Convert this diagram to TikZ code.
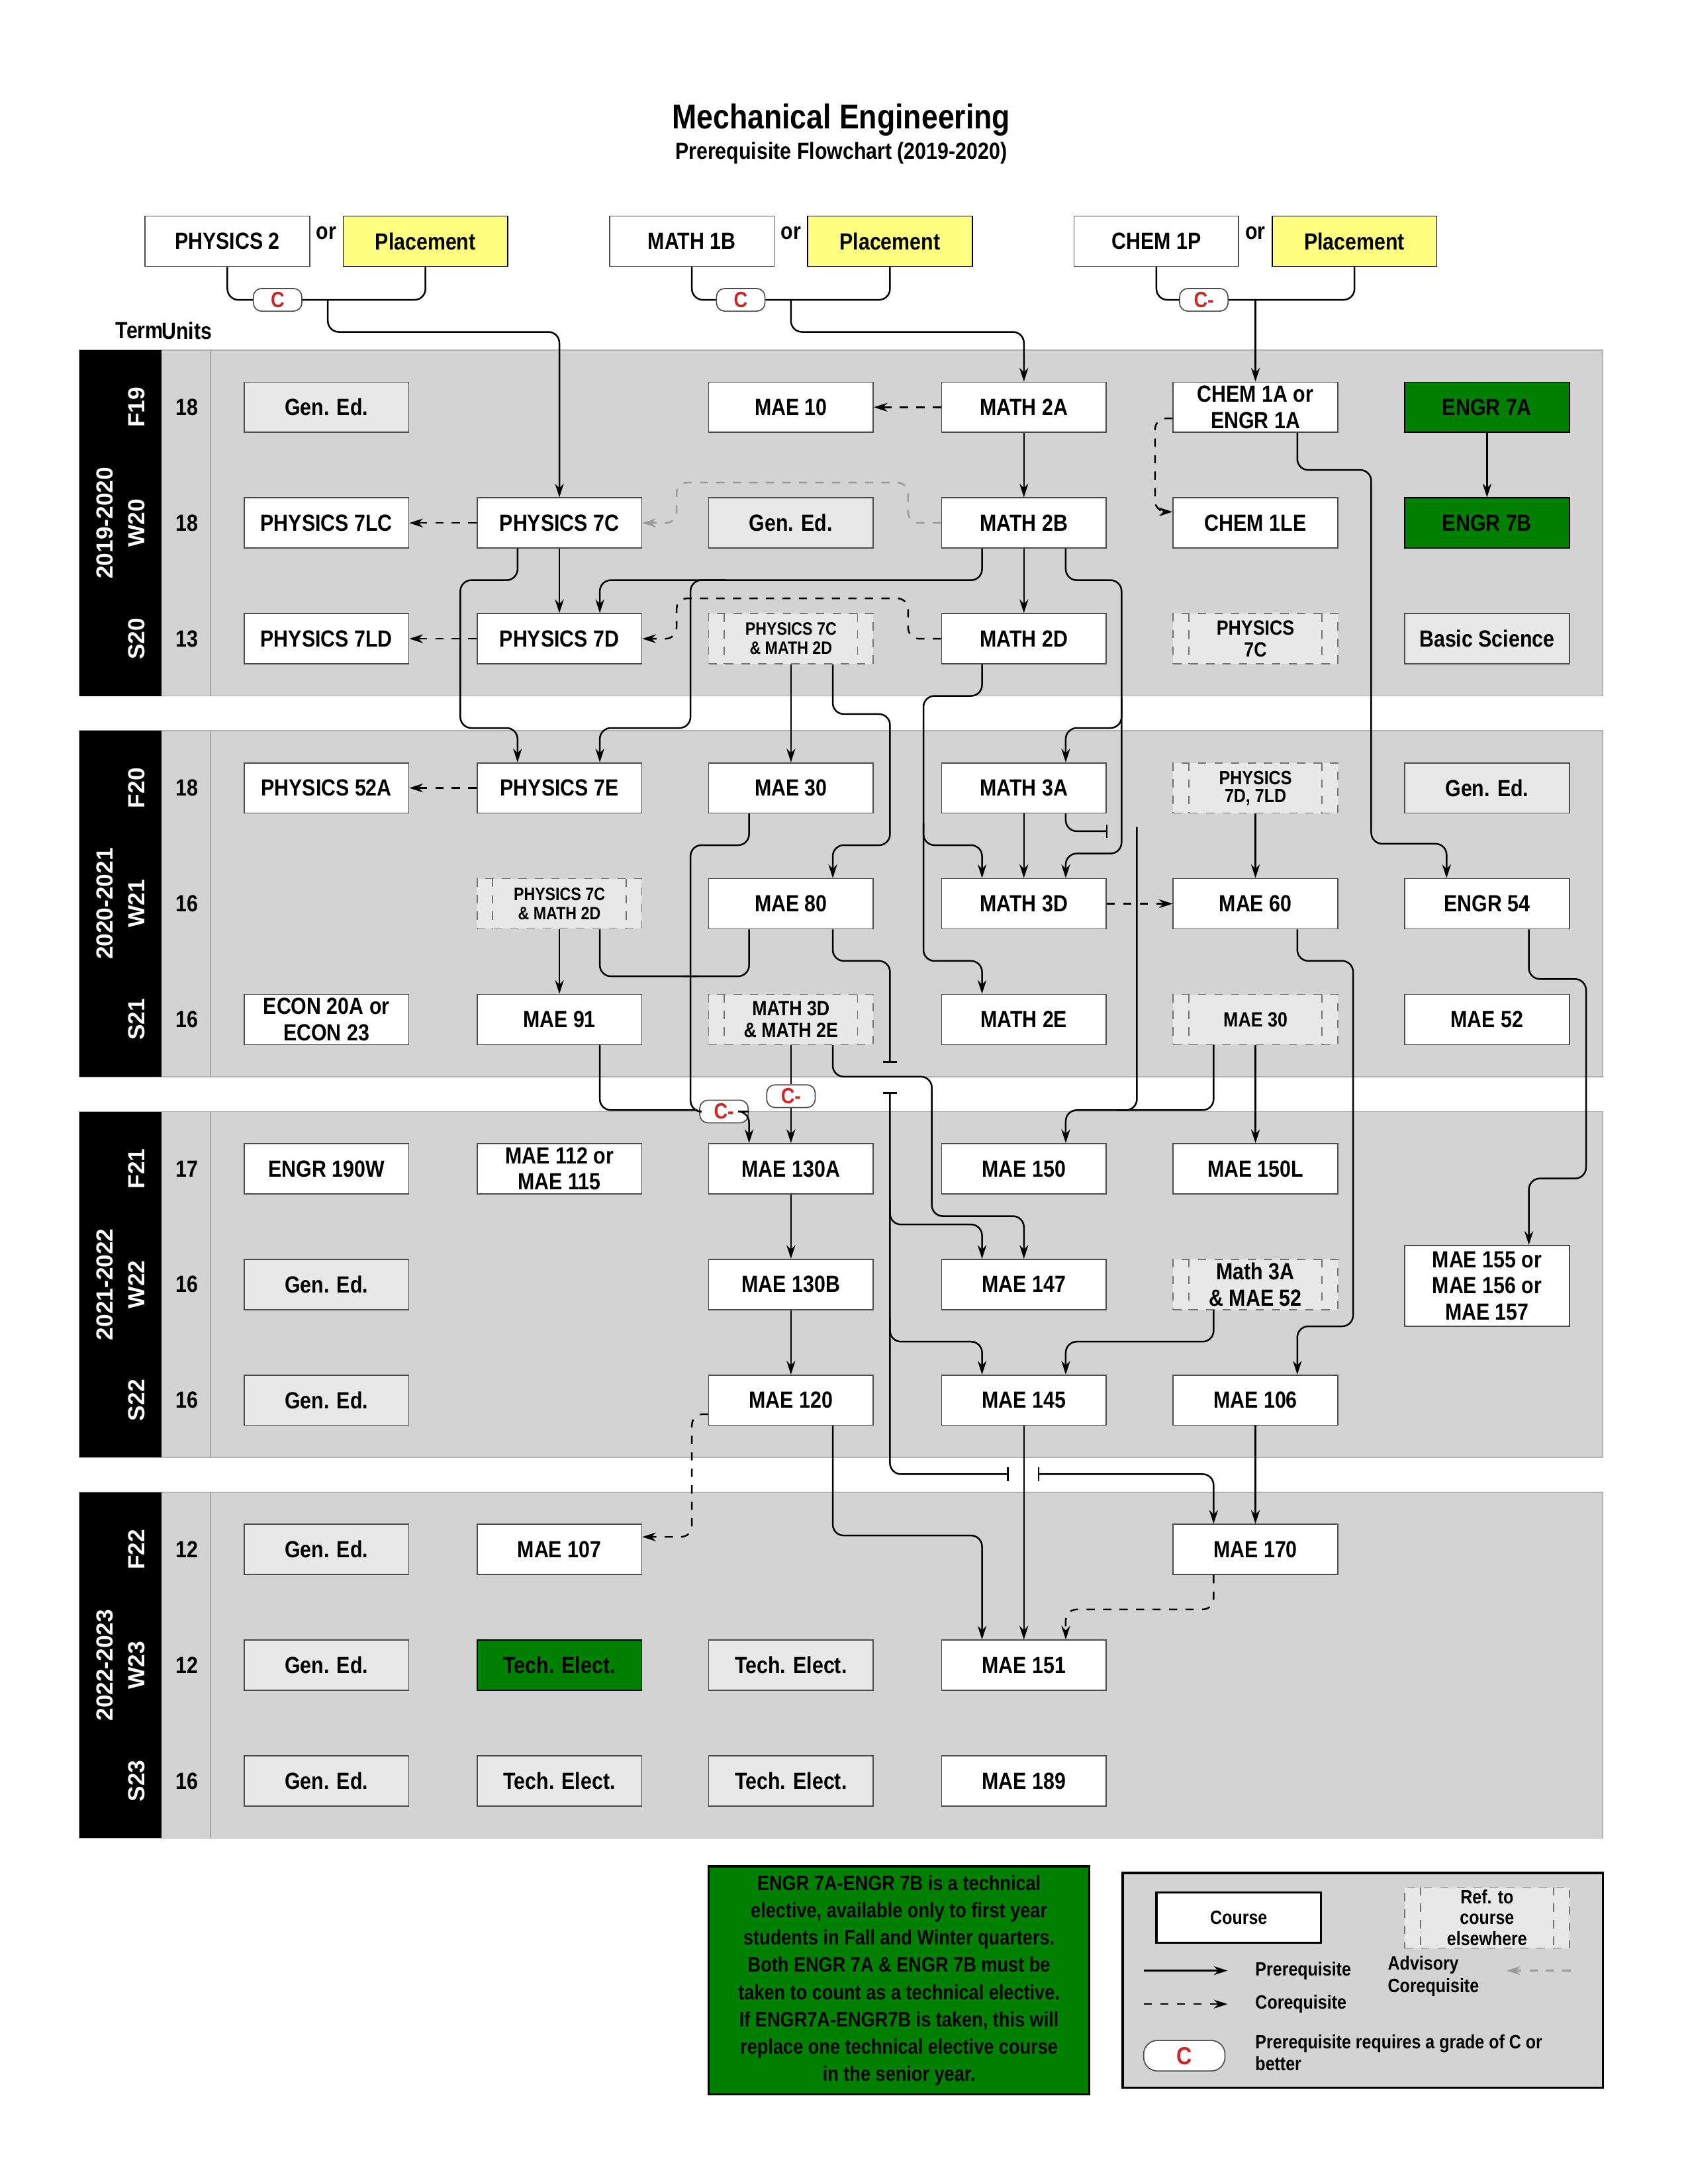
\documentclass[tikz,border=0pt]{standalone}
\usepackage{fontspec}
\setmainfont{Liberation Sans}[FakeStretch=0.86]
\newfontfamily\widefont{Liberation Sans}
\usetikzlibrary{arrows.meta,calc}
\definecolor{bandgray}{RGB}{211,211,211}
\definecolor{gedgray}{RGB}{232,232,232}
\definecolor{okgreen}{RGB}{0,128,0}
\definecolor{plyellow}{RGB}{255,255,128}
\definecolor{gradered}{RGB}{200,40,40}
\tikzset{
  course/.style={draw=black!70, fill=white, minimum width=2.105cm, minimum height=0.642cm, inner sep=1pt, align=center, font=\bfseries\fontsize{8.5}{9.5}\selectfont},
  gened/.style={course, fill=gedgray},
  greenc/.style={course, fill=okgreen, draw=black},
  place/.style={course, fill=plyellow, draw=black},
  refbox/.style={course, fill=gedgray, draw=black!55, dashed, font=\bfseries\fontsize{6.5}{7}\selectfont,
    path picture={\draw[black!55,dashed] ([xshift=0.2cm]path picture bounding box.north west) -- ([xshift=0.2cm]path picture bounding box.south west);
                  \draw[black!55,dashed] ([xshift=-0.2cm]path picture bounding box.north east) -- ([xshift=-0.2cm]path picture bounding box.south east);}},
  badge/.style={draw=black!70, fill=white, rounded corners=3pt, minimum width=0.62cm, minimum height=0.29cm, inner sep=0pt, text=gradered, font=\bfseries\fontsize{8}{8}\selectfont},
  con/.style={line width=0.6pt, rounded corners=4pt},
  pre/.style={con, -{Stealth[length=5pt,width=3.2pt]}},
  co/.style={con, dashed, -{Stealth[length=5pt,width=3.2pt]}},
  adv/.style={con, dashed, black!40, -{Stealth[length=5pt,width=3.2pt]}},
  lbl/.style={font=\bfseries\fontsize{8.5}{9.5}\selectfont},
  yr/.style={text=white, rotate=90, font=\widefont\bfseries\fontsize{8.5}{9}\selectfont},
  band/.style={fill=bandgray, draw=black!30},
}
\begin{document}
\begin{tikzpicture}[x=0.017843cm, y=-0.017843cm]
\useasboundingbox[fill=white] (0,0) rectangle (1210,1566);
% title
\node[font=\bfseries\fontsize{12.5}{13}\selectfont] (title) at (603,86) {Mechanical Engineering};
\node[font=\bfseries\fontsize{8.5}{9}\selectfont] (sub) at (603,110) {Prerequisite Flowchart (2019-2020)};
% bands
\foreach \t in {251,524,797,1070}{
  \fill[bandgray] (57,\t) rectangle (1149,\t+248);
  \draw[black!30] (57,\t) rectangle (1149,\t+248);
  \fill[black] (57,\t) rectangle (116,\t+248);
  \draw[black!35] (151,\t) -- (151,\t+248);
}
\node[lbl] (term) at (100,237) {Term};
\node[lbl] (units) at (134,237) {Units};
% year and term labels
\node[yr] (y1) at (75,375) {2019-2020};
\node[yr] (y2) at (75,648) {2020-2021};
\node[yr] (y3) at (75,921) {2021-2022};
\node[yr] (y4) at (75,1194) {2022-2023};
\foreach \n/\y/\u in {F19/292/18,W20/375/18,S20/458/13,F20/565/18,W21/648/16,S21/731/16,F21/838/17,W22/921/16,S22/1004/16,F22/1111/12,W23/1194/12,S23/1277/16}{
  \node[yr] (t\n) at (98,\y) {\n};
  \node[lbl] (u\n) at (134,\y) {\u};
}
% top prerequisites
\node[course] (p2) at (163,173) {PHYSICS 2};
\node[place] (pl1) at (305,173) {Placement};
\node[course] (m1b) at (496,173) {MATH 1B};
\node[place] (pl2) at (638,173) {Placement};
\node[course] (c1p) at (829,173) {CHEM 1P};
\node[place] (pl3) at (971,173) {Placement};
\node[lbl] (or1) at (234,167) {or};
\node[lbl] (or2) at (567,167) {or};
\node[lbl] (or3) at (900,167) {or};
\node[badge] (b1) at (199,215) {C};
\node[badge] (b2) at (531,215) {C};
\node[badge] (b3) at (863,215) {C-};
% courses
\node[gened] (ge1) at (234,292) {Gen. Ed.};
\node[course] (mae10) at (567,292) {MAE 10};
\node[course] (m2a) at (734,292) {MATH 2A};
\node[course, font=\bfseries\fontsize{8.5}{9.5}\selectfont] (chem1a) at (900,292) {CHEM 1A or\\ENGR 1A};
\node[greenc] (e7a) at (1066,292) {ENGR 7A};
\node[course] (p7lc) at (234,375) {PHYSICS 7LC};
\node[course] (p7c) at (401,375) {PHYSICS 7C};
\node[gened] (ge2) at (567,375) {Gen. Ed.};
\node[course] (m2b) at (734,375) {MATH 2B};
\node[course] (chem1le) at (900,375) {CHEM 1LE};
\node[greenc] (e7b) at (1066,375) {ENGR 7B};
\node[course] (p7ld) at (234,458) {PHYSICS 7LD};
\node[course] (p7d) at (401,458) {PHYSICS 7D};
\node[refbox] (r1) at (567,458) {PHYSICS 7C\\\& MATH 2D};
\node[course] (m2d) at (734,458) {MATH 2D};
\node[refbox, font=\bfseries\fontsize{7.5}{8}\selectfont] (r2) at (900,458) {PHYSICS\\7C};
\node[gened] (bsci) at (1066,458) {Basic Science};
\node[course] (p52a) at (234,565) {PHYSICS 52A};
\node[course] (p7e) at (401,565) {PHYSICS 7E};
\node[course] (mae30) at (567,565) {MAE 30};
\node[course] (m3a) at (734,565) {MATH 3A};
\node[refbox, font=\bfseries\fontsize{7}{6.5}\selectfont] (r3) at (900,565) {PHYSICS\\7D, 7LD};
\node[gened] (ge3) at (1066,565) {Gen. Ed.};
\node[refbox] (r4) at (401,648) {PHYSICS 7C\\\& MATH 2D};
\node[course] (mae80) at (567,648) {MAE 80};
\node[course] (m3d) at (734,648) {MATH 3D};
\node[course] (mae60) at (900,648) {MAE 60};
\node[course] (e54) at (1066,648) {ENGR 54};
\node[course] (econ) at (234,731) {ECON 20A or\\ECON 23};
\node[course] (mae91) at (401,731) {MAE 91};
\node[refbox, font=\bfseries\fontsize{7.5}{8}\selectfont] (r5) at (567,731) {MATH 3D\\\& MATH 2E};
\node[course] (m2e) at (734,731) {MATH 2E};
\node[refbox, font=\bfseries\fontsize{7.5}{8}\selectfont] (r6) at (900,731) {MAE 30};
\node[course] (mae52) at (1066,731) {MAE 52};
\node[course] (e190) at (234,838) {ENGR 190W};
\node[course] (mae112) at (401,838) {MAE 112 or\\MAE 115};
\node[course] (m130a) at (567,838) {MAE 130A};
\node[course] (m150) at (734,838) {MAE 150};
\node[course] (m150l) at (900,838) {MAE 150L};
\node[gened] (ge4) at (234,921) {Gen. Ed.};
\node[course] (m130b) at (567,921) {MAE 130B};
\node[course] (m147) at (734,921) {MAE 147};
\node[refbox, font=\bfseries\fontsize{8.5}{9.5}\selectfont] (r7) at (900,921) {Math 3A\\\& MAE 52};
\node[course, minimum height=1.035cm] (m155) at (1066,922) {MAE 155 or\\MAE 156 or\\MAE 157};
\node[gened] (ge5) at (234,1004) {Gen. Ed.};
\node[course] (m120) at (567,1004) {MAE 120};
\node[course] (m145) at (734,1004) {MAE 145};
\node[course] (m106) at (900,1004) {MAE 106};
\node[gened] (ge6) at (234,1111) {Gen. Ed.};
\node[course] (m107) at (401,1111) {MAE 107};
\node[course] (m170) at (900,1111) {MAE 170};
\node[gened] (ge7) at (234,1194) {Gen. Ed.};
\node[greenc] (te1) at (401,1194) {Tech. Elect.};
\node[gened] (te2) at (567,1194) {Tech. Elect.};
\node[course] (m151) at (734,1194) {MAE 151};
\node[gened] (ge8) at (234,1277) {Gen. Ed.};
\node[gened] (te3) at (401,1277) {Tech. Elect.};
\node[gened] (te4) at (567,1277) {Tech. Elect.};
\node[course] (m189) at (734,1277) {MAE 189};
% badges on connectors
\node[badge] (c1) at (519,797) {C-};
\node[badge] (c2) at (567,786) {C-};

% top connectors
\draw[con] (p2.south) |- (b1.west);
\draw[con] (pl1.south) |- (b1.east);
\draw[pre] (235,215) -- (235,238) -| (p7c.north);
\draw[con] (m1b.south) |- (b2.west);
\draw[con] (pl2.south) |- (b2.east);
\draw[pre] (567,215) -- (567,238) -| (m2a.north);
\draw[con] (c1p.south) |- (b3.west);
\draw[con] (pl3.south) |- (b3.east);
\draw[pre] (900,215) -- (chem1a.north);
% year 1
\draw[co] (m2a.west) -- (mae10.east);
\draw[pre] (m2a) -- (m2b);
\draw[co] ($(chem1a.west)+(0,8)$) -- (828,300) -- (828,367) -- ($(chem1le.west)+(0,-8)$);
\draw[pre] ($(chem1a.south)+(30,0)$) -- (930,337) -- (983,337) -- (983,605) -- (1037,605) -- ($(e54.north)+(-29,0)$);
\draw[pre] (e7a) -- (e7b);
\draw[adv] (m2b.west) -- (651,375) -- (651,346) -- (485,346) -- (485,375) -- (p7c.east);
\draw[co] (p7c.west) -- (p7lc.east);
\draw[pre] (p7c) -- (p7d);
\draw[pre] ($(m2b.south)+(-30,0)$) -- (704,416) -- (430,416) -- ($(p7d.north)+(29,0)$);
\draw[pre] (520,416) -- (495,416) -- (495,522) -- (430,522) -- ($(p7e.north)+(29,0)$);
\draw[pre] (m2b) -- (m2d);
\draw[pre] ($(m2b.south)+(30,0)$) -- (764,416) -- (804,416) -- (804,522) -- (764,522) -- ($(m3a.north)+(30,0)$);
\draw[pre] (804,500) -- (804,612) -- (764,612) -- ($(m3d.north)+(30,0)$);
\draw[co] (m2d.west) -- (651,458) -- (651,429) -- (485,429) -- (485,458) -- (p7d.east);
\draw[co] (p7d.west) -- (p7ld.east);
\draw[pre] ($(p7c.south)+(-30,0)$) -- (371,416) -- (330,416) -- (330,522) -- (371,522) -- ($(p7e.north)+(-30,0)$);
\draw[co] (p7e.west) -- (p52a.east);
% year 2
\draw[pre] (r1) -- (mae30);
\draw[pre] ($(r1.south)+(30,0)$) -- (597,512) -- (638,512) -- (638,606) -- (597,606) -- ($(mae80.north)+(30,0)$);
\draw[pre] ($(m2d.south)+(-30,0)$) -- (704,499) -- (662,499) -- (662,606) -- (704,606) -- ($(m3d.north)+(-30,0)$);
\draw[pre] (662,590) -- (662,689) -- (704,689) -- ($(m2e.north)+(-30,0)$);
\draw[pre] (m3a) -- (m3d);
\draw[con, -{Bar[width=5pt]}] ($(m3a.south)+(30,0)$) -- (764,596) -- (794,596);
\draw[pre] (815,593) -- (815,796) -- (764,796) -- ($(m150.north)+(30,0)$);
\draw[con] ($(r6.south)+(-30,0)$) -- (870,796) -- (800,796);
\draw[co] (m3d) -- (mae60);
\draw[pre] (r3) -- (mae60);
\draw[pre] ($(mae60.south)+(30,0)$) -- (930,689) -- (970,689) -- (970,951) -- (930,951) -- ($(m106.north)+(30,0)$);
\draw[pre] ($(e54.south)+(30,0)$) -- (1096,702) -- (1137,702) -- (1137,845) -- (1096,845) -- ($(m155.north)+(30,0)$);
\draw[pre] (r6) -- (m150l);
\draw[pre] (r4) -- (mae91);
\draw[con] ($(r4.south)+(29,0)$) -- (430,700) -- (500,700);
\draw[con] ($(mae80.south)+(-30,0)$) -- (537,700) -- (490,700);
\draw[con] ($(mae30.south)+(-30,0)$) -- (537,606) -- (495,606) -- (495,797) -- (c1.west);
\draw[pre] (c1.east) -- (537,797) -- ($(m130a.north)+(-30,0)$);
\draw[con] ($(mae91.south)+(29,0)$) -- (430,796) -- (500,796);
\draw[con] (r5.south) -- (c2.north);
\draw[pre] (c2.south) -- (m130a.north);
\draw[con, -{Bar[width=5pt]}] ($(mae80.south)+(30,0)$) -- (597,689) -- (638,689) -- (638,762);
\draw[con, {Bar[width=5pt]}-{Bar[width=5pt]}] (638,783) -- (638,1057) -- (723,1057);
\draw[pre] (638,860) -- (638,878) -- (704,878) -- ($(m147.north)+(-30,0)$);
\draw[pre] (638,945) -- (638,962) -- (704,962) -- ($(m145.north)+(-30,0)$);
\draw[con, {Bar[width=5pt]}-{Stealth[length=5pt,width=3.2pt]}] (744,1057) -- (870,1057) -- ($(m170.north)+(-30,0)$);
\draw[pre] ($(r5.south)+(30,0)$) -- (597,772) -- (668,772) -- (668,872) -- (734,872) -- (m147.north);
% year 3/4
\draw[pre] ($(r7.south)+(-30,0)$) -- (870,962) -- (764,962) -- ($(m145.north)+(30,0)$);
\draw[pre] (m130a) -- (m130b);
\draw[pre] (m130b) -- (m120);
\draw[co] ($(m120.west)+(0,10)$) -- (496,1014) -- (496,1102) -- ($(m107.east)+(0,-9)$);
\draw[pre] ($(m120.south)+(30,0)$) -- (597,1101) -- (704,1101) -- ($(m151.north)+(-30,0)$);
\draw[pre] (m145) -- (m151);
\draw[pre] (m106) -- (m170);
\draw[co] ($(m170.south)+(-30,0)$) -- (870,1154) -- (764,1154) -- ($(m151.north)+(30,0)$);

% notes
\node[draw=black, line width=0.8pt, fill=okgreen, minimum width=4.87cm, minimum height=2.75cm, align=center, font=\bfseries\fontsize{7.6}{9.9}\selectfont] (note) at (644.5,1420)
 {ENGR 7A-ENGR 7B is a technical\\elective, available only to first year\\students in Fall and Winter quarters.\\Both ENGR 7A \& ENGR 7B must be\\taken to count as a technical elective.\\If ENGR7A-ENGR7B is taken, this will\\replace one technical elective course\\in the senior year.};
\node[draw=black, line width=0.8pt, fill=bandgray, minimum width=6.14cm, minimum height=2.75cm] (legend) at (977,1420) {};
\node[course, draw=black, line width=0.8pt, font=\bfseries\fontsize{7}{8}\selectfont] (lcourse) at (888,1375) {Course};
\node[refbox, font=\bfseries\fontsize{7}{7.5}\selectfont] (lref) at (1066,1375) {Ref. to\\course\\elsewhere};
\coordinate (la1) at (820,1413);
\coordinate (la2) at (880,1413);
\coordinate (lb1) at (820,1437);
\coordinate (lb2) at (880,1437);
\coordinate (lc1) at (1126,1413);
\coordinate (lc2) at (1080,1413);
\draw[pre] (la1) -- (la2);
\draw[co] (lb1) -- (lb2);
\draw[adv] (lc1) -- (lc2);
\node[anchor=west, font=\bfseries\fontsize{7}{8}\selectfont] (lpre) at (893,1413) {Prerequisite};
\node[anchor=west, font=\bfseries\fontsize{7}{8}\selectfont] (lco) at (893,1437) {Corequisite};
\node[anchor=west, align=left, font=\bfseries\fontsize{7}{8}\selectfont] (ladv) at (988,1417) {Advisory\\Corequisite};
\node[badge, minimum width=1.04cm, minimum height=0.39cm, rounded corners=5pt, font=\bfseries\fontsize{9}{9}\selectfont] (lbadge) at (849,1474) {C};
\node[anchor=west, align=left, font=\bfseries\fontsize{7}{8}\selectfont] (lgrade) at (893,1472) {Prerequisite requires a grade of C or\\better};
\end{tikzpicture}
\end{document}
